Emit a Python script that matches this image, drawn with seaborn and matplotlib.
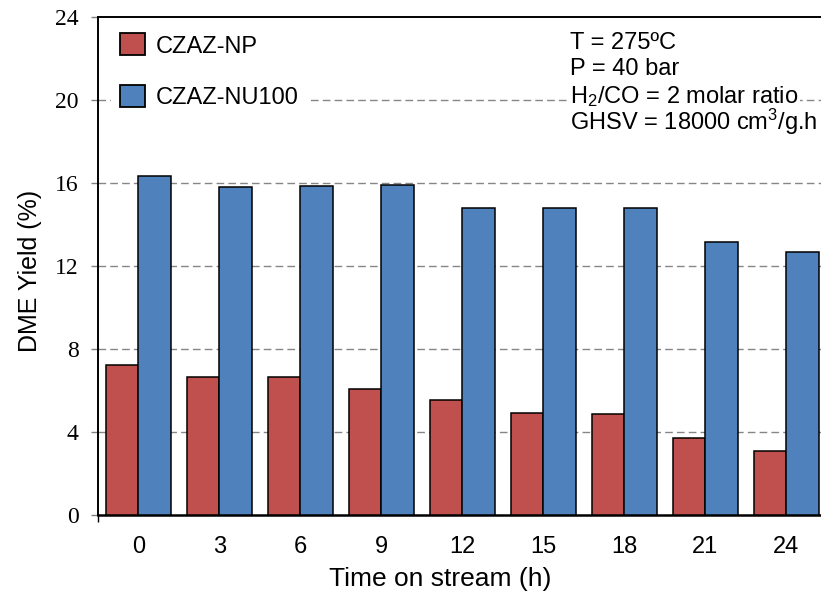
import matplotlib
matplotlib.use("Agg")
import matplotlib.pyplot as plt
import seaborn as sns
import pandas as pd
from matplotlib.ticker import FixedLocator

# ---- data ----
times = ["0", "3", "6", "9", "12", "15", "18", "21", "24"]
np_yield = [7.23, 6.67, 6.65, 6.06, 5.53, 4.90, 4.88, 3.70, 3.08]
nu100_yield = [16.34, 15.80, 15.86, 15.90, 14.81, 14.81, 14.78, 13.17, 12.67]
series_names = ["CZAZ-NP", "CZAZ-NU100"]
yticks = [0, 4, 8, 12, 16, 20, 24]
conditions = ["T = 275ºC", "P = 40 bar", "H$_2$/CO = 2 molar ratio",
              "GHSV = 18000 cm$^3$/g.h"]

df = pd.DataFrame({
    "time": times * 2,
    "yield": np_yield + nu100_yield,
    "catalyst": [series_names[0]] * len(times) + [series_names[1]] * len(times),
})

sns.set_theme(style="white")
plt.rcParams["font.family"] = ["Liberation Sans", "DejaVu Sans"]
plt.rcParams["text.color"] = "black"
plt.rcParams["axes.labelcolor"] = "black"
plt.rcParams["xtick.color"] = "black"
plt.rcParams["ytick.color"] = "black"
plt.rcParams["mathtext.fontset"] = "custom"
plt.rcParams["mathtext.rm"] = "Liberation Sans"
plt.rcParams["mathtext.it"] = "Liberation Sans:italic"
plt.rcParams["mathtext.bf"] = "Liberation Sans:bold"

W, H = 821, 594
fig = plt.figure(figsize=(W / 100, H / 100), dpi=100)
ax_l, ax_r, ax_b, ax_t = 98, 821, 515, 17
ax = fig.add_axes([ax_l / W, 1 - ax_b / H, (ax_r - ax_l) / W, (ax_b - ax_t) / H])

colors = ["#C0504D", "#4F81BD"]
sns.barplot(data=df, x="time", y="yield", hue="catalyst", order=times,
            hue_order=series_names, palette=colors, edgecolor="black",
            linewidth=1.1, width=0.8, gap=0, saturation=1, ax=ax, zorder=3)

ax.set_xlim(-0.5, 8.43)
ax.set_ylim(0, 24)
ax.set_yticks(yticks)
ax.tick_params(axis="y", direction="out", length=5, width=1, color="#808080",
               pad=9, labelcolor="black", left=True, labelsize=17)
ax.tick_params(axis="x", length=0, pad=15, labelsize=17, labelcolor="black")
ax.xaxis.set_minor_locator(FixedLocator([-0.5]))
ax.tick_params(axis="x", which="minor", bottom=True, length=5, width=1,
               color="black", direction="out")

for v in yticks[1:-1]:
    ax.axhline(v, color="#868686", linewidth=1.0, linestyle=(0, (5.5, 3)),
               zorder=1)

for side in ["left", "top", "bottom"]:
    ax.spines[side].set_visible(True)
    ax.spines[side].set_color("black")
ax.spines["left"].set_linewidth(1.4)
ax.spines["top"].set_linewidth(1.4)
ax.spines["bottom"].set_linewidth(1.8)
ax.spines["right"].set_visible(False)

ax.set_xlabel("Time on stream (h)", fontsize=19, color="black")
ax.set_ylabel("DME Yield (%)", fontsize=18, color="black")
ax.xaxis.set_label_coords((440 - ax_l) / (ax_r - ax_l), (ax_b - 567) / (ax_b - ax_t))
ax.yaxis.set_label_coords((42 - ax_l) / (ax_r - ax_l), 0.49)

handles, labels = ax.get_legend_handles_labels()
for h in handles:
    h.set_edgecolor("black")
    h.set_linewidth(1.3)
leg = ax.legend(handles, labels, loc="upper left",
                bbox_to_anchor=((111 - ax_l) / (ax_r - ax_l), (ax_b - 24) / (ax_b - ax_t)),
                borderaxespad=0, borderpad=0.4, fontsize=17, handlelength=1.06,
                handleheight=1.06, handletextpad=0.42, labelspacing=1.15,
                frameon=True, fancybox=False, framealpha=1, facecolor="white",
                edgecolor="none")
for t in leg.get_texts():
    t.set_color("black")
leg.set_zorder(5)

baselines = [49, 75, 103, 130]
for txt, yb in zip(conditions, baselines):
    kw = {}
    if "CO" in txt:
        kw["bbox"] = dict(facecolor="white", edgecolor="none", pad=1)
    fig.text(570 / W, 1 - yb / H, txt, fontsize=17, va="baseline", ha="left",
             color="black", zorder=6, **kw)

# serif y tick labels (set last so nothing resets them)
fig.canvas.draw()
for tick in ax.yaxis.get_major_ticks():
    tick.label1.set_fontfamily(["Liberation Serif", "DejaVu Serif"])
    tick.label1.set_fontsize(17)

fig.savefig("out.png", dpi=100, facecolor="white")
